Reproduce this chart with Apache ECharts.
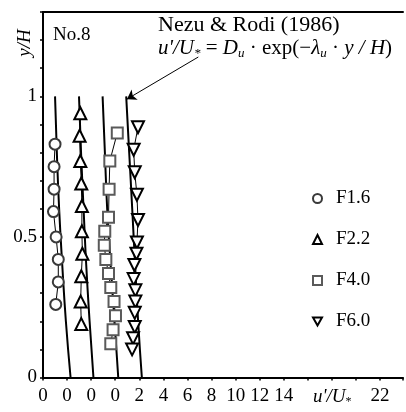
<!DOCTYPE html>
<html>
<head>
<meta charset="utf-8">
<script src="https://cdn.jsdelivr.net/npm/echarts@6/dist/echarts.min.js"></script>
<style>
  html, body { margin: 0; padding: 0; background: #fff; }
  #profile-chart { width: 406px; height: 412px; }
</style>
</head>
<body>
<div id="profile-chart"></div>
<script>
// measured profiles, u'/U* against y/H (each group shifted along x by its offset)
const f16Y = [0.83, 0.75, 0.67, 0.59, 0.50, 0.42, 0.34, 0.26]
const f16U = [1.00, 0.92, 0.92, 0.87, 1.09, 1.27, 1.27, 1.06]
const f22Y = [0.94, 0.86, 0.77, 0.69, 0.61, 0.52, 0.44, 0.36, 0.27, 0.19]
const f22U = [1.10, 1.04, 1.10, 1.18, 1.23, 1.23, 1.27, 1.18, 1.13, 1.18]
const f40Y = [0.87, 0.77, 0.67, 0.57, 0.52, 0.47, 0.42, 0.37, 0.32, 0.27, 0.22, 0.17, 0.12]
const f40U = [2.17, 1.55, 1.49, 1.44, 1.13, 1.09, 1.22, 1.44, 1.63, 1.90, 2.02, 1.82, 1.63]
const f60Y = [0.89, 0.81, 0.73, 0.65, 0.56, 0.48, 0.44, 0.40, 0.35, 0.31, 0.27, 0.23, 0.18, 0.14, 0.10]
const f60U = [1.89, 1.53, 1.62, 1.80, 1.89, 1.80, 1.76, 1.59, 1.53, 1.67, 1.67, 1.62, 1.62, 1.48, 1.40]

// Nezu & Rodi (1986) curves
const nezuY = [0, 0.2, 0.4, 0.6, 0.8, 1.0]
const nezuU1 = [2.29, 1.90, 1.60, 1.34, 1.15, 1.00]
const nezuU2 = [2.19, 1.87, 1.59, 1.37, 1.16, 0.99]
const nezuU3 = [2.25, 1.94, 1.62, 1.33, 1.14, 0.95]
const nezuU4 = [2.21, 1.90, 1.65, 1.41, 1.16, 0.91]

const groupNames = ['F1.6', 'F2.2', 'F4.0', 'F6.0']
const groupOffsets = [0, 2, 4, 6]
const yTickLabels = { 0: '0', 5: '0.5', 10: '1' }

const serif = 'Liberation Serif'

const toPoints = (us, ys, offset) => us.map((u, i) => [u + offset, ys[i]])

// x tick labels: 0 for the first four groups, then counted from the last group's zero
const xLabel = (v) => {
  const k = Math.round(v)
  if (Math.abs(v - k) > 1e-6 || k % 2) return ''
  if (k <= 6) return '0'
  if (k <= 20) return String(k - 6)
  if (k === 28) return '22'
  return ''
}

const nezuLine = (us, offset, extra) => Object.assign({
  type: 'line',
  data: toPoints(us, nezuY, offset),
  smooth: true,
  symbol: 'none',
  lineStyle: { color: '#000', width: 2 },
  z: 2,
}, extra || {})

const markerSeries = (name, us, ys, offset, symbol, color, size, rotate) => ({
  name: name,
  type: 'line',
  data: toPoints(us, ys, offset),
  symbol: symbol,
  symbolSize: size,
  symbolRotate: rotate || 0,
  lineStyle: { color: '#000', width: 1 },
  itemStyle: { color: '#fff', borderColor: color, borderWidth: 2 },
  z: 3,
})

const profileChart = echarts.init(document.getElementById('profile-chart'))

const profileOption = {
  animation: false,
  grid: { left: 43, top: 12, width: 366.3, height: 365.5 },
  legend: {
    orient: 'vertical',
    left: 307,
    top: 184,
    itemWidth: 9,
    itemHeight: 9,
    itemGap: 22,
    textStyle: { fontFamily: serif, fontSize: 19, lineHeight: 18, color: '#000', padding: [0, 0, 0, 9] },
    data: [
      { name: 'F1.6', icon: 'circle', itemStyle: { color: '#fff', borderColor: '#3a3a3a', borderWidth: 2 } },
      { name: 'F2.2', icon: 'triangle', itemStyle: { color: '#fff', borderColor: '#000', borderWidth: 2 } },
      { name: 'F4.0', icon: 'rect', itemStyle: { color: '#fff', borderColor: '#5a5a5a', borderWidth: 2 } },
      { name: 'F6.0', icon: 'path://M0,0L10,0L5,9Z', itemStyle: { color: '#fff', borderColor: '#000', borderWidth: 2 } },
    ],
  },
  xAxis: [
    {
      type: 'value',
      min: 0,
      max: 29.9,
      interval: 2,
      splitLine: { show: false },
      axisLine: { lineStyle: { color: '#000', width: 2 } },
      axisTick: { length: 3, lineStyle: { color: '#000', width: 1.5 } },
      axisLabel: { formatter: xLabel, margin: 9, fontFamily: serif, fontSize: 19, color: '#000' },
    },
    {
      type: 'value',
      position: 'top',
      min: 0,
      max: 29.9,
      splitLine: { show: false },
      axisLine: { show: true, lineStyle: { color: '#000', width: 2 } },
      axisTick: { show: false },
      axisLabel: { show: false },
    },
  ],
  yAxis: {
    type: 'value',
    min: 0,
    max: 1.3,
    interval: 0.1,
    splitLine: { show: false },
    axisLine: { lineStyle: { color: '#000', width: 2 } },
    axisTick: { length: 3, lineStyle: { color: '#000', width: 1.5 } },
    axisLabel: {
      formatter: (v) => yTickLabels[Math.round(v * 10)] || '',
      margin: 6,
      fontFamily: serif,
      fontSize: 19,
      color: '#000',
    },
  },
  series: [
    nezuLine(nezuU1, groupOffsets[0]),
    nezuLine(nezuU2, groupOffsets[1]),
    nezuLine(nezuU3, groupOffsets[2]),
    nezuLine(nezuU4, groupOffsets[3], {
      markLine: {
        silent: true,
        symbol: ['none', 'arrow'],
        symbolSize: 9,
        label: { show: false },
        lineStyle: { color: '#000', width: 1, type: 'solid' },
        data: [[{ coord: [12.9, 1.14] }, { coord: [6.97, 0.99] }]],
      },
    }),
    markerSeries(groupNames[0], f16U, f16Y, groupOffsets[0], 'circle', '#3a3a3a', 11),
    markerSeries(groupNames[1], f22U, f22Y, groupOffsets[1], 'triangle', '#000', 12),
    markerSeries(groupNames[2], f40U, f40Y, groupOffsets[2], 'rect', '#5a5a5a', 11),
    markerSeries(groupNames[3], f60U, f60Y, groupOffsets[3], 'triangle', '#000', 12, 180),
  ],
  graphic: [
    {
      type: 'text',
      x: 25,
      y: 43,
      rotation: Math.PI / 2,
      style: { text: 'y/H', fontFamily: serif, fontStyle: 'italic', fontSize: 19, fill: '#000', align: 'center', verticalAlign: 'middle' },
    },
    {
      type: 'text',
      x: 53,
      y: 35,
      style: { text: 'No.8', fontFamily: serif, fontSize: 19, fill: '#000', verticalAlign: 'middle' },
    },
    {
      type: 'text',
      x: 158,
      y: 25,
      style: { text: 'Nezu & Rodi (1986)', fontFamily: serif, fontSize: 22, fill: '#000', verticalAlign: 'middle' },
    },
    {
      type: 'text',
      x: 158,
      y: 48,
      style: {
        text: "{i|u'/U}{s|*}{n| = }{i|D}{s|u}{n| · exp(−}{i|λ}{s|u}{n| · }{i|y / H}{n|)}",
        verticalAlign: 'middle',
        rich: {
          i: { fontFamily: serif, fontStyle: 'italic', fontSize: 21, fill: '#000', lineHeight: 24 },
          n: { fontFamily: serif, fontSize: 21, fill: '#000', lineHeight: 24 },
          s: { fontFamily: serif, fontStyle: 'italic', fontSize: 13, fill: '#000', lineHeight: 24, padding: [11, 0, 0, 0] },
        },
      },
    },
    {
      type: 'text',
      x: 313,
      y: 397,
      style: {
        text: "{i|u'/U}{s|*}",
        verticalAlign: 'middle',
        rich: {
          i: { fontFamily: serif, fontStyle: 'italic', fontSize: 19, fill: '#000', lineHeight: 22 },
          s: { fontFamily: serif, fontSize: 12, fill: '#000', lineHeight: 22, padding: [10, 0, 0, 0] },
        },
      },
    },
  ],
}

profileChart.setOption(profileOption)
</script>
</body>
</html>
